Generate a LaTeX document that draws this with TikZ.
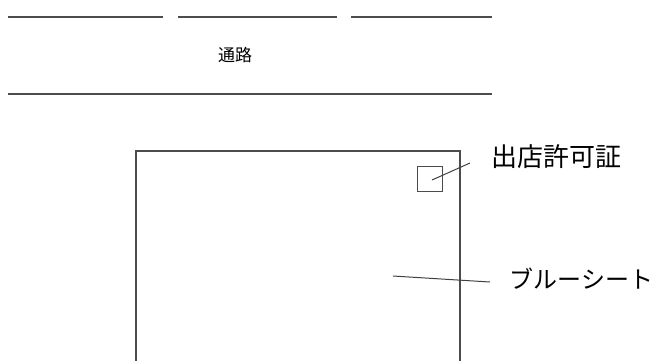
\documentclass[tikz,border=0pt]{standalone}
\usepackage{fontspec}
\setmainfont{Noto Sans CJK JP}
\usetikzlibrary{positioning}

\begin{document}
\begin{tikzpicture}[
    x=0.5pt, y=-0.5pt,
    line width=0.6pt,
    edge/.style={draw=black!70},
    label/.style={font=\fontsize{13pt}{15pt}\selectfont, inner sep=0pt, anchor=west},
    lead/.style={draw=black!75, line width=0.5pt}
]
    \useasboundingbox (0,0) rectangle (656,360);

    % Passage (top and bottom edges)
    \draw[edge] (8,17) -- (163,17);
    \draw[edge] (178,17) -- (337,17);
    \draw[edge] (351,17) -- (492,17);
    \draw[edge] (8,94) -- (492,94);
    \node[font=\fontsize{8.5pt}{10pt}\selectfont] (passage) at (235,55) {通路};

    % Stall area (blue sheet)
    \draw[edge] (136,362) -- (136,151) -- (460,151) -- (460,362);

    % Permit
    \node[draw=black!70, line width=0.5pt, minimum size=12.5pt, inner sep=0pt] (permit) at (429.5,178.5) {};
    \coordinate (permitdot) at (432,180);
    \coordinate (permitend) at (470,163);
    \node[label] (permitlabel) at (491,157) {出店許可証};
    \draw[lead] (permitdot) -- (permitend);

    % Sheet label
    \coordinate (sheetdot) at (393,276);
    \coordinate (sheetend) at (490,282);
    \node[label, font=\fontsize{12pt}{14pt}\selectfont] (sheetlabel) at (509,279) {ブルーシート};
    \draw[lead] (sheetdot) -- (sheetend);

\end{tikzpicture}
\end{document}
